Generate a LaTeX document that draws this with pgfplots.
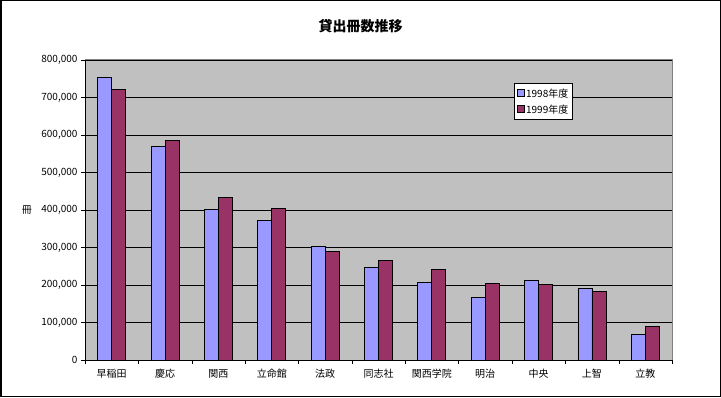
\documentclass[border=0pt]{standalone}
\usepackage{pgfplots}
\pgfplotsset{compat=1.18}
\usepackage{fontspec}
\setmainfont{Noto Sans CJK JP}
\definecolor{cA}{HTML}{9999FF}
\definecolor{cB}{HTML}{993366}
\definecolor{bg}{HTML}{C0C0C0}
\definecolor{fr}{HTML}{808080}
\begin{document}
\begin{tikzpicture}[x=1pt,y=1pt]
\path[use as bounding box] (0,0) rectangle (721,397);
\draw[black,line width=1.5pt] (0.75,0.75) rectangle (720.25,396.25);
\node[font=\fontsize{14}{16}\selectfont\bfseries] at (360.5,371) {貸出冊数推移};
\begin{axis}[
  at={(85pt,37pt)}, anchor=south west,
  scale only axis, width=587pt, height=300pt,
  ybar=0pt, bar width=14pt,
  xmin=-0.5, xmax=10.5, ymin=0, ymax=800000,
  ytick={0,100000,...,800000},
  xtick={0,...,10},
  xticklabels={早稲田,慶応,関西,立命館,法政,同志社,関西学院,明治,中央,上智,立教},
  minor xtick={-0.5,0.5,...,10.5},
  x tick style={draw=none},
  minor x tick style={draw=black},
  minor tick length=4pt,
  major tick length=4pt,
  y tick style={black},
  tick align=outside,
  axis x line*=bottom, axis y line*=left,
  axis line style={black, line width=0.8pt},
  axis background/.style={fill=bg, draw=fr, line width=1pt},
  ymajorgrids, grid style={black, line width=0.8pt},
  scaled y ticks=false,
  /pgf/number format/assume math mode=true,
  yticklabel style={/pgf/number format/.cd, fixed, 1000 sep={,}},
  ticklabel style={font=\fontsize{10}{12}\selectfont},
  xticklabel style={yshift=-2pt},
  ylabel={冊},
  ylabel style={at={(rel axis cs:-0.099,0.5)}, rotate=-90, anchor=center, font=\fontsize{10}{12}\selectfont},
  legend style={at={(rel axis cs:0.731,0.922)}, anchor=north west, draw=black, fill=white, line width=0.8pt,
    font=\fontsize{10}{12}\selectfont, cells={anchor=west}, row sep=2pt, inner xsep=2pt, inner ysep=3pt},
  legend image code/.code={\draw[#1, draw=black, line width=0.6pt] (0pt,-3pt) rectangle (7pt,4pt);},
  every axis plot/.append style={draw=black, line width=0.8pt},
]
\addplot[fill=cA] coordinates {(0,754000) (1,570000) (2,402000) (3,372000) (4,303000) (5,247000) (6,207000) (7,167000) (8,212000) (9,191000) (10,68500)};
\addplot[fill=cB] coordinates {(0,722000) (1,586000) (2,434000) (3,404000) (4,290000) (5,266000) (6,242000) (7,204000) (8,202000) (9,183000) (10,90000)};
\legend{1998年度,1999年度}
\end{axis}
\end{tikzpicture}
\end{document}
